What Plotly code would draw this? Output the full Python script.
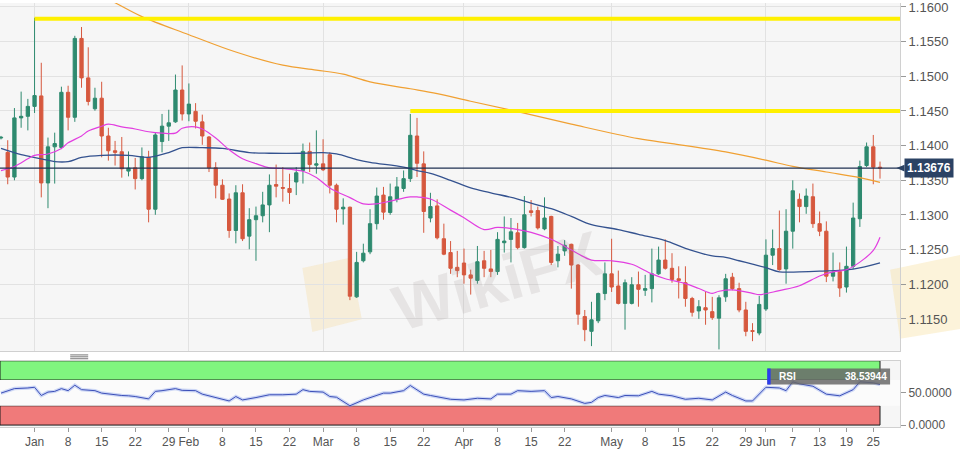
import plotly.graph_objects as go

# ---- daily candles ----
opens = [
    1.1411, 1.13903, 1.13547, 1.14400, 1.14423, 1.14566, 1.14717, 1.13462, 1.13983, 1.13974,
    1.14769, 1.14409, 1.15546, 1.14977, 1.14532, 1.14684, 1.14139, 1.13926, 1.13912, 1.13633,
    1.13680, 1.13524, 1.13832, 1.13083, 1.14059, 1.14281, 1.14343, 1.14802, 1.14457, 1.14494,
    1.14343, 1.14125, 1.13680, 1.13429, 1.13230, 1.12776, 1.13320, 1.12695, 1.12932, 1.12989,
    1.13145, 1.13439, 1.13396, 1.13382, 1.13476, 1.13642, 1.13917, 1.13718, 1.13737, 1.13869,
    1.13429, 1.13088, 1.13112, 1.11819, 1.12340, 1.12468, 1.12875, 1.13287, 1.13036, 1.13226,
    1.13382, 1.13524, 1.14139, 1.13737, 1.12956, 1.13131, 1.12657, 1.12458, 1.12245, 1.12307,
    1.12136, 1.12056, 1.12340, 1.12222, 1.12184, 1.12600, 1.12648, 1.12743, 1.12529, 1.13060,
    1.13064, 1.12799, 1.12979, 1.12340, 1.12482, 1.12577, 1.12278, 1.11535, 1.11322, 1.11474,
    1.11867, 1.12151, 1.11976, 1.11725, 1.11725, 1.11994, 1.11914, 1.11938, 1.12151, 1.12350,
    1.12231, 1.12080, 1.12023, 1.11796, 1.11616, 1.11663, 1.11606, 1.11512, 1.11819, 1.12103,
    1.11938, 1.11630, 1.11332, 1.11298, 1.11644, 1.12420, 1.12515, 1.12222, 1.12766, 1.13226,
    1.13121, 1.13263, 1.12875, 1.12766, 1.12117, 1.12184, 1.11961, 1.12260, 1.12946, 1.13713,
    1.13983, 1.13690,
]
highs = [
    1.1414, 1.14078, 1.14542, 1.14779, 1.14674, 1.15844, 1.15195, 1.14116, 1.14187, 1.14850,
    1.14864, 1.15584, 1.15711, 1.15418, 1.14835, 1.14921, 1.14258, 1.14068, 1.14125, 1.13917,
    1.13822, 1.13974, 1.13926, 1.14187, 1.14457, 1.14518, 1.15025, 1.15157, 1.14897, 1.14613,
    1.14447, 1.14139, 1.13761, 1.13514, 1.13311, 1.13429, 1.13443, 1.13098, 1.13121, 1.13334,
    1.13585, 1.13727, 1.13690, 1.13595, 1.13690, 1.14030, 1.14045, 1.14220, 1.14092, 1.13903,
    1.13453, 1.13240, 1.13121, 1.12468, 1.12586, 1.13083, 1.13396, 1.13405, 1.13453, 1.13547,
    1.13642, 1.14457, 1.14400, 1.13917, 1.13320, 1.13226, 1.12875, 1.12624, 1.12482, 1.12515,
    1.12212, 1.12553, 1.12482, 1.12496, 1.12752, 1.12979, 1.12956, 1.12885, 1.13273, 1.13216,
    1.13121, 1.13254, 1.12989, 1.12553, 1.12638, 1.12586, 1.12293, 1.11630, 1.11748, 1.11881,
    1.12316, 1.12657, 1.12198, 1.12070, 1.12103, 1.12184, 1.12136, 1.12515, 1.12544, 1.12648,
    1.12449, 1.12260, 1.12260, 1.11819, 1.11772, 1.11890, 1.11819, 1.11843, 1.12151, 1.12165,
    1.12023, 1.11748, 1.11440, 1.11833, 1.12648, 1.12790, 1.13064, 1.13083, 1.13500, 1.13311,
    1.13382, 1.13453, 1.13050, 1.12908, 1.12458, 1.12316, 1.12544, 1.13178, 1.13784, 1.14045,
    1.14154, 1.13770,
]
lows = [
    1.1409, 1.13443, 1.13500, 1.14258, 1.14220, 1.14471, 1.13254, 1.13098, 1.13453, 1.13950,
    1.14220, 1.14343, 1.14835, 1.14580, 1.14504, 1.13832, 1.13784, 1.13713, 1.13538, 1.13557,
    1.13368, 1.13500, 1.12894, 1.13003, 1.13903, 1.14068, 1.14329, 1.14362, 1.14352, 1.14248,
    1.14012, 1.13619, 1.13240, 1.13216, 1.12671, 1.12591, 1.12624, 1.12506, 1.12340, 1.12894,
    1.12752, 1.13254, 1.13192, 1.13159, 1.13287, 1.13453, 1.13619, 1.13595, 1.13633, 1.13311,
    1.12894, 1.12861, 1.11772, 1.11805, 1.12316, 1.12435, 1.12790, 1.12932, 1.13003, 1.13183,
    1.13334, 1.13476, 1.13547, 1.12743, 1.12894, 1.12648, 1.12420, 1.12151, 1.12103, 1.12009,
    1.11852, 1.12009, 1.12103, 1.12103, 1.12136, 1.12458, 1.12316, 1.12506, 1.12515, 1.12979,
    1.12790, 1.12780, 1.12278, 1.12245, 1.12411, 1.11938, 1.11417, 1.11180, 1.11109, 1.11440,
    1.11772, 1.11890, 1.11710, 1.11346, 1.11710, 1.11677, 1.11833, 1.11739, 1.12136, 1.12212,
    1.12023, 1.11796, 1.11677, 1.11535, 1.11502, 1.11417, 1.11488, 1.11062, 1.11748, 1.11914,
    1.11597, 1.11251, 1.11180, 1.11265, 1.11616, 1.12278, 1.12198, 1.12009, 1.12515, 1.12894,
    1.13017, 1.12814, 1.12695, 1.12032, 1.12042, 1.11819, 1.11881, 1.12222, 1.12828, 1.13690,
    1.13443, 1.13524,
]
closes = [
    1.1412, 1.13547, 1.14400, 1.14423, 1.14566, 1.14722, 1.13462, 1.13983, 1.14030, 1.14769,
    1.14409, 1.15546, 1.14977, 1.14637, 1.14684, 1.14139, 1.13926, 1.13903, 1.13666, 1.13675,
    1.13524, 1.13841, 1.13083, 1.14154, 1.14281, 1.14329, 1.14802, 1.14457, 1.14599, 1.14352,
    1.14139, 1.13680, 1.13429, 1.13226, 1.12776, 1.13320, 1.12657, 1.12932, 1.12989, 1.13145,
    1.13429, 1.13415, 1.13386, 1.13325, 1.13609, 1.13917, 1.13727, 1.13737, 1.13652, 1.13429,
    1.13083, 1.13112, 1.11829, 1.12316, 1.12449, 1.12875, 1.13273, 1.13041, 1.13263, 1.13405,
    1.13524, 1.14149, 1.13746, 1.13050, 1.13121, 1.12671, 1.12435, 1.12231, 1.12198, 1.12136,
    1.12089, 1.12326, 1.12231, 1.12184, 1.12648, 1.12624, 1.12757, 1.12529, 1.13003, 1.13036,
    1.12814, 1.12956, 1.12316, 1.12435, 1.12563, 1.12278, 1.11569, 1.11346, 1.11488, 1.11867,
    1.12151, 1.11961, 1.11725, 1.12023, 1.11994, 1.11928, 1.11938, 1.12151, 1.12350, 1.12231,
    1.12070, 1.12056, 1.11796, 1.11597, 1.11677, 1.11630, 1.11521, 1.11805, 1.12080, 1.11938,
    1.11630, 1.11322, 1.11322, 1.11710, 1.12420, 1.12515, 1.12212, 1.12766, 1.13349, 1.13121,
    1.13273, 1.12875, 1.12766, 1.12117, 1.12174, 1.11947, 1.12260, 1.12956, 1.13699, 1.13983,
    1.13690, 1.13676,
]
bars = list(range(len(closes)))

# ---- moving averages, sampled along the chart ----
ma_slow_idx = [12, 17, 21, 28, 35, 42, 47, 51, 55, 61, 65, 70, 77, 85, 95, 100, 108, 114, 118, 123, 128, 131]
ma_slow_val = [1.1631, 1.1606, 1.1586, 1.1560, 1.1535, 1.1516, 1.1509, 1.1503, 1.1492, 1.1482, 1.1475,
               1.1464, 1.1449, 1.1431, 1.1410, 1.1403, 1.1391, 1.1379, 1.1370, 1.1362, 1.1354, 1.1347]

ma_mid_idx = [0, 3, 6, 8, 10, 12, 15, 19, 22, 25, 27, 30, 33, 37, 40, 45, 48, 50, 53, 55, 60, 62, 64, 67,
              70, 73, 77, 79, 82, 85, 88, 92, 95, 99, 102, 106, 108, 110, 112, 114, 116, 119, 122, 127, 131]
ma_mid_val = [1.1396, 1.1387, 1.1381, 1.1377, 1.1377, 1.1383, 1.1386, 1.1386, 1.1383, 1.1390, 1.1397,
              1.1397, 1.1396, 1.1390, 1.1389, 1.1389, 1.1390, 1.1388, 1.1380, 1.1376, 1.1369, 1.1364,
              1.1360, 1.1350, 1.1339, 1.1332, 1.1323, 1.1317, 1.1309, 1.1298, 1.1286, 1.1279, 1.1272,
              1.1263, 1.1252, 1.1241, 1.1239, 1.1234, 1.1229, 1.1224, 1.1218, 1.1218, 1.1219, 1.1222, 1.1231]

ma_fast_idx = [0, 2, 4, 5, 7, 9, 10, 12, 13, 15, 16, 18, 20, 22, 24, 26, 27, 29, 30, 32, 34, 36, 38, 40,
               42, 45, 47, 49, 52, 54, 56, 58, 61, 62, 64, 67, 69, 72, 74, 77, 79, 82, 84, 86, 88, 91,
               94, 97, 99, 102, 104, 106, 107, 109, 112, 113, 116, 119, 122, 124, 126, 128, 130, 131]
ma_fast_val = [1.1364, 1.1370, 1.1381, 1.1386, 1.1388, 1.1396, 1.1404, 1.1414, 1.1421, 1.1428, 1.1431,
               1.1427, 1.1424, 1.1420, 1.1418, 1.1418, 1.1425, 1.1427, 1.1424, 1.1411, 1.1394, 1.1381,
               1.1374, 1.1368, 1.1367, 1.1363, 1.1354, 1.1339, 1.1325, 1.1316, 1.1316, 1.1320, 1.1326,
               1.1326, 1.1323, 1.1307, 1.1296, 1.1279, 1.1282, 1.1279, 1.1275, 1.1265, 1.1255, 1.1244,
               1.1235, 1.1234, 1.1229, 1.1215, 1.1208, 1.1201, 1.1194, 1.1187, 1.1190, 1.1192, 1.1187,
               1.1185, 1.1191, 1.1198, 1.1212, 1.1218, 1.1221, 1.1232, 1.1249, 1.1268]

# ---- RSI ----
rsi_idx = [0, 2, 4, 5, 6, 7, 8, 9, 10, 11, 12, 14, 15, 16, 18, 19, 20, 22, 23, 24, 26, 27, 29, 30, 32, 34,
           35, 36, 38, 40, 42, 44, 45, 46, 48, 49, 50, 52, 54, 55, 57, 58, 60, 61, 63, 64, 66, 67, 69, 71,
           73, 74, 76, 77, 79, 81, 82, 83, 85, 87, 88, 89, 90, 92, 93, 95, 97, 98, 100, 102, 104, 106,
           108, 109, 111, 112, 114, 116, 117, 118, 119, 121, 123, 124, 125, 127, 128, 130, 131]
rsi_val = [49.7, 56.7, 57.7, 58.8, 46.0, 51.3, 52.4, 56.7, 53.5, 62.0, 55.1, 53.5, 49.7, 48.1, 46.0, 45.5,
           44.4, 40.7, 52.4, 53.5, 56.7, 54.0, 53.5, 48.1, 42.8, 37.5, 44.4, 39.1, 42.8, 47.1, 47.1, 48.1,
           55.1, 52.4, 51.3, 44.4, 43.3, 30.0, 39.1, 42.8, 49.7, 49.7, 53.5, 61.5, 48.1, 46.0, 42.8, 40.1,
           39.1, 41.7, 40.7, 48.1, 48.1, 53.5, 52.4, 53.5, 42.8, 44.4, 40.7, 33.7, 35.3, 42.8, 46.0, 42.8,
           46.0, 45.5, 52.4, 48.1, 45.5, 40.1, 41.7, 39.1, 51.3, 46.0, 37.5, 37.5, 58.8, 57.7, 53.5, 67.3,
           64.1, 60.4, 48.1, 47.1, 45.5, 55.1, 67.3, 65.7, 63.1]
rsi_label = "38.53944"

# ---- levels and axis labels ----
last_price = 1.13676
resist_hi = 1.1583
resist_hi_from = 5
resist_lo = 1.1450
resist_lo_from = 61

month_idx = [5, 28, 48, 69, 91, 114]
tick_idx = [5, 10, 15, 20, 25, 28, 33, 38, 43, 48, 53, 58, 63, 69, 74, 79, 84, 91, 96, 101, 106, 111,
            114, 118, 122, 126, 130]
tick_text = ["Jan", "8", "15", "22", "29", "Feb", "8", "15", "22", "Mar", "8", "15", "22", "Apr", "8",
             "15", "22", "May", "8", "15", "22", "29", "Jun", "7", "13", "19", "25"]
price_ticks = [1.1150, 1.1200, 1.1250, 1.1300, 1.1350, 1.1400, 1.1450, 1.1500, 1.1550, 1.1600]

GREEN = "#2e8a6f"
RED = "#d6583e"
FONT = "Arial, Liberation Sans, sans-serif"
x_range = [-0.15, 133.98]
last_bar = bars[-1]

fig = go.Figure()

fig.add_trace(go.Candlestick(
    x=bars, open=opens, high=highs, low=lows, close=closes,
    increasing=dict(line=dict(color=GREEN, width=1), fillcolor=GREEN),
    decreasing=dict(line=dict(color=RED, width=1), fillcolor=RED),
    whiskerwidth=0, xaxis="x", yaxis="y", hoverinfo="skip",
))
fig.add_trace(go.Scatter(x=ma_slow_idx, y=ma_slow_val, mode="lines", line_shape="spline",
                         line=dict(color="#f0a032", width=1.2), xaxis="x", yaxis="y"))
fig.add_trace(go.Scatter(x=ma_mid_idx, y=ma_mid_val, mode="lines", line_shape="spline",
                         line=dict(color="#34528f", width=1.3), xaxis="x", yaxis="y"))
fig.add_trace(go.Scatter(x=ma_fast_idx, y=ma_fast_val, mode="lines", line_shape="spline",
                         line=dict(color="#e23ee0", width=1.2), xaxis="x", yaxis="y"))

# RSI line with its soft halo
fig.add_trace(go.Scatter(x=rsi_idx, y=rsi_val, mode="lines",
                         line=dict(color="rgba(120,150,235,0.35)", width=3.5), xaxis="x2", yaxis="y2"))
fig.add_trace(go.Scatter(x=rsi_idx, y=rsi_val, mode="lines",
                         line=dict(color="#3c4fb8", width=1), xaxis="x2", yaxis="y2"))

shapes = [
    # horizontal levels
    dict(type="line", xref="x", yref="y", x0=resist_hi_from, x1=x_range[1], y0=resist_hi, y1=resist_hi,
         line=dict(color="#fff000", width=4)),
    dict(type="line", xref="x", yref="y", x0=resist_lo_from, x1=x_range[1], y0=resist_lo, y1=resist_lo,
         line=dict(color="#fff000", width=4)),
    dict(type="line", xref="paper", yref="y", x0=0, x1=1, y0=last_price, y1=last_price,
         line=dict(color="#1f3152", width=1.2)),
    # price tag pointer
    dict(type="path", xref="paper", yref="y",
         path=f"M 0.996,{last_price} L 1.005,{last_price + 0.00050} L 1.005,{last_price - 0.00050} Z",
         fillcolor="#2b4264", line=dict(width=0)),
    # RSI zones
    dict(type="rect", xref="x2", yref="y2", x0=x_range[0], x1=last_bar, y0=70, y1=100,
         fillcolor="#80f57f", line=dict(color="#1a1a1a", width=1), layer="below"),
    dict(type="rect", xref="x2", yref="y2", x0=x_range[0], x1=last_bar, y0=0, y1=30,
         fillcolor="#f07a7a", line=dict(color="#1a1a1a", width=1), layer="below"),
    dict(type="rect", xref="x2", yref="y2", x0=x_range[0], x1=x_range[1], y0=30, y1=70,
         fillcolor="#fbfbfb", line=dict(width=0), layer="below"),
    # RSI value box
    dict(type="rect", xref="x2", yref="y2", x0=114.2, x1=132.5, y0=63, y1=88,
         fillcolor="rgba(105,105,105,0.85)", line=dict(width=0)),
    dict(type="rect", xref="x2", yref="y2", x0=114.2, x1=114.7, y0=63, y1=88,
         fillcolor="#2a3cf0", line=dict(width=0)),
    # watermark logos
    dict(type="path", xref="paper", yref="paper",
         path="M 0.336,0.375 L 0.389,0.399 L 0.402,0.254 L 0.347,0.224 Z",
         fillcolor="rgba(245,215,150,0.30)", line=dict(width=0), layer="below"),
    dict(type="path", xref="paper", yref="paper",
         path="M 0.989,0.371 L 1.067,0.406 L 1.067,0.231 L 1.0,0.208 Z",
         fillcolor="rgba(245,220,150,0.35)", line=dict(width=0), layer="below"),
]
# drag handle between panels
for py in [0.1700, 0.1655, 0.1610]:
    shapes.append(dict(type="line", xref="paper", yref="paper", x0=0.078, x1=0.098, y0=py, y1=py,
                       line=dict(color="#777", width=1)))

annotations = [
    dict(xref="paper", yref="y", x=1.005, y=last_price, xanchor="left", showarrow=False,
         text="<b>1.13676</b>", bgcolor="#2b4264", borderpad=2,
         font=dict(color="white", size=12, family=FONT)),
    dict(xref="x2", yref="y2", x=115.6, y=75.5, xanchor="left", showarrow=False, text="<b>RSI</b>",
         font=dict(color="white", size=10, family=FONT)),
    dict(xref="x2", yref="y2", x=132.3, y=75.5, xanchor="right", showarrow=False, text=f"<b>{rsi_label}</b>",
         font=dict(color="white", size=10, family=FONT)),
    dict(xref="x", yref="y", x=74, y=1.1205, showarrow=False, text="<b>WikiFX</b>", textangle=-16,
         font=dict(color="rgba(150,135,135,0.16)", size=64, family=FONT)),
]

axis_font = dict(family=FONT, size=13, color="#555")

fig.update_layout(
    width=960, height=449,
    margin=dict(l=0, r=60, t=0, b=20),
    paper_bgcolor="white",
    plot_bgcolor="#f6f6f6",
    showlegend=False,
    hovermode=False,
    shapes=shapes,
    annotations=annotations,
    xaxis=dict(domain=[0, 1], anchor="y", range=x_range, tickvals=month_idx, showticklabels=False,
               ticks="", showgrid=True, gridcolor="#e2e2e2", zeroline=False,
               showline=True, linecolor="#d0d0d0", rangeslider=dict(visible=False)),
    yaxis=dict(domain=[0.1795, 1], anchor="x", side="right", range=[1.1104, 1.16057],
               tickvals=price_ticks, tickformat=".4f", ticks="outside", ticklen=5, tickcolor="#999",
               ticklabeloverflow="allow",
               showgrid=True, gridcolor="#e2e2e2", zeroline=False, showline=True, linecolor="#d0d0d0",
               tickfont=axis_font),
    xaxis2=dict(domain=[0, 1], anchor="y2", range=x_range, tickvals=tick_idx, ticktext=tick_text,
                ticks="outside", ticklen=4, tickcolor="#999", showgrid=False, zeroline=False,
                showline=True, mirror=True, linecolor="#d0d0d0",
                tickfont=dict(family=FONT, size=12, color="#555")),
    yaxis2=dict(domain=[0, 0.1562], anchor="x2", side="right", range=[-3, 100], tickvals=[0, 50],
                tickformat=".4f", ticks="outside", ticklen=5, tickcolor="#999", showgrid=False,
                zeroline=False, showline=True, linecolor="#d0d0d0",
                tickfont=dict(family=FONT, size=12, color="#555")),
)

# page has a default 8px body margin; drop it so the 960x449 figure fills the window
fig.write_html("out.html", config={"displayModeBar": False},
               post_script="document.body.style.margin='0px';")
